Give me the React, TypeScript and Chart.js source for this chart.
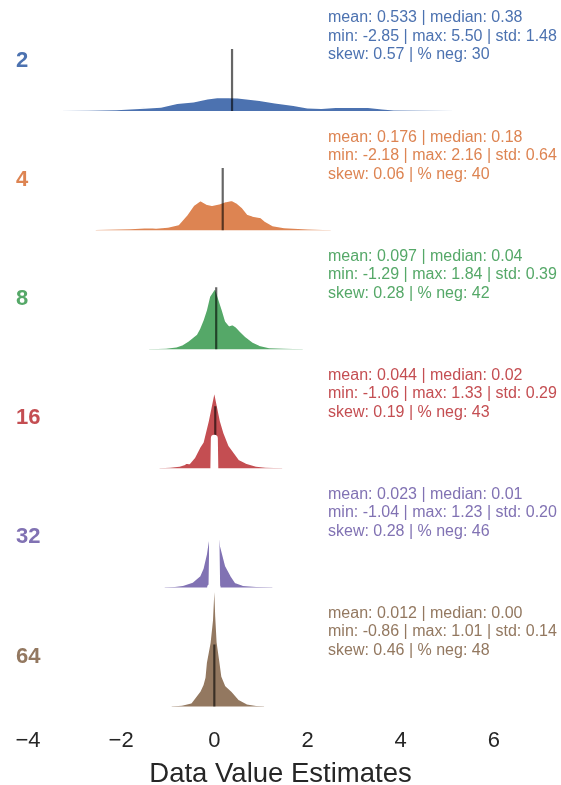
import React, { useEffect, useRef } from "react";
import { Chart, registerables } from "chart.js";

Chart.register(...registerables);

// ---- data ----
const categories = ["2", "4", "8", "16", "32", "64"];
const colors = ["#4C72B0", "#DD8452", "#55A868", "#C44E52", "#8172B3", "#937860"];

const means = [0.533, 0.176, 0.097, 0.044, 0.023, 0.012];
const medians = [0.38, 0.18, 0.04, 0.02, 0.01, 0.0];
const mins = [-2.85, -2.18, -1.29, -1.06, -1.04, -0.86];
const maxs = [5.5, 2.16, 1.84, 1.33, 1.23, 1.01];
const stds = [1.48, 0.64, 0.39, 0.29, 0.2, 0.14];
const skews = [0.57, 0.06, 0.28, 0.19, 0.28, 0.46];
const pctNeg = [30, 40, 42, 43, 46, 48];

const xTickValues = [-4, -2, 0, 2, 4, 6];

// density curves (x positions and heights)
const x2 = [-3.35, -2.7, -2.1, -1.5, -1.15, -0.8, -0.45, -0.15, 0.1, 0.5, 0.97, 1.3, 1.7, 2.0, 2.3, 2.6, 2.9, 3.3, 3.6, 3.85, 4.5, 5.2, 5.9];
const d2 = [1.2, 1.4, 1.8, 3.2, 4.4, 8, 9.5, 12.5, 14, 13.5, 11, 8.5, 6, 3.6, 3, 4, 4.3, 4, 2.5, 1.6, 1.3, 1.2, 1.0];

const x4 = [-2.55, -2.3, -1.8, -1.4, -1.25, -1.0, -0.77, -0.6, -0.45, -0.3, -0.15, -0.05, 0.1, 0.25, 0.38, 0.5, 0.6, 0.72, 0.82, 1.0, 1.1, 1.25, 1.5, 2.0, 2.5];
const d4 = [1.2, 1.4, 1.8, 2.8, 2.5, 3.5, 6, 15, 25, 30, 26, 25, 26.5, 29, 30, 27, 23, 16, 14.5, 13, 9, 5, 3, 1.6, 1.0];

const x8 = [-1.4, -1.04, -0.82, -0.68, -0.57, -0.47, -0.39, -0.32, -0.25, -0.18, -0.11, 0.02, 0.11, 0.18, 0.25, 0.32, 0.39, 0.47, 0.57, 0.68, 0.82, 0.97, 1.18, 1.5, 1.9];
const d8 = [1.0, 1.5, 2.7, 5, 8.3, 12, 15, 21, 29, 39, 52.7, 62, 49, 39, 28, 24, 25, 22.7, 17.7, 12.7, 7.7, 4.3, 2, 1.5, 1.0];

const x16 = [-1.18, -0.95, -0.75, -0.65, -0.6, -0.54, -0.43, -0.32, -0.25, -0.14, -0.07, 0, 0.07, 0.14, 0.21, 0.32, 0.43, 0.54, 0.68, 0.9, 1.1, 1.46];
const d16 = [1.0, 1.5, 2.6, 4, 5.6, 5, 11, 21, 26, 47, 63, 79, 63, 47, 36, 23, 16, 9, 5.6, 2.6, 1.5, 1.0];

const x32 = [-1.07, -0.85, -0.68, -0.47, -0.32, -0.25, -0.18, -0.13, -0.1, -0.08, -0.05, 0, 0.05, 0.06, 0.07, 0.1, 0.14, 0.25, 0.36, 0.46, 0.61, 0.9, 1.25];
const d32 = [1.0, 1.5, 2.3, 5.7, 11.6, 19, 33, 49, 60, 0, 0, 149, 0, 0, 70, 56, 41.6, 21.6, 12, 5, 2.5, 1.5, 1.0];

const x64 = [-0.92, -0.7, -0.5, -0.45, -0.32, -0.25, -0.21, -0.18, -0.1, -0.05, -0.02, 0, 0.02, 0.04, 0.07, 0.13, 0.17, 0.25, 0.39, 0.54, 0.7, 0.9, 1.07];
const d64 = [1.0, 1.8, 4, 7, 15, 22, 29, 44, 64, 86, 116, 145, 116, 90, 64, 44, 30, 21, 15, 7, 3, 1.5, 1.0];

const densityX = [x2, x4, x8, x16, x32, x64];
const densityY = [d2, d4, d8, d16, d32, d64];

// ---- layout / style constants ----
const ROW_GAP = 119;
const MEDIAN_LEN = 62;
const FONT = "'Liberation Sans', Arial, Helvetica, sans-serif";
const INK = "#262626";
// x-range of the narrow central spike whose white outline is drawn thick (row "32")
const SPIKE_ROW = 4;
const SPIKE_LO = -0.085;
const SPIKE_HI = 0.065;

const fmtTick = (v: number) => (v < 0 ? "\u2212" + Math.abs(v) : String(v));

export default function App() {
  const ref = useRef<HTMLCanvasElement | null>(null);

  useEffect(() => {
    document.body.style.margin = "0";
    const canvas = ref.current;
    if (!canvas) return;
    const n = categories.length;
    const bases = categories.map((_, i) => (n - 1 - i) * ROW_GAP);

    const datasets: any[] = [];
    categories.forEach((_, i) => {
      const base = bases[i];
      const pts = densityX[i].map((x, k) => ({ x, y: base + densityY[i][k] }));
      const o = (n - 1 - i) * 3;
      const spike = i === SPIKE_ROW;
      // filled density
      datasets.push({
        type: "line",
        data: pts,
        backgroundColor: colors[i],
        borderWidth: 0,
        borderColor: "rgba(0,0,0,0)",
        pointRadius: 0,
        tension: 0,
        fill: { value: base },
        order: o + 2,
      });
      // median line
      datasets.push({
        type: "line",
        data: [
          { x: medians[i], y: base },
          { x: medians[i], y: base + MEDIAN_LEN },
        ],
        borderColor: "rgba(0,0,0,0.6)",
        borderWidth: 2.2,
        pointRadius: 0,
        fill: false,
        order: spike ? o + 1 : o,
      });
      // white outline
      datasets.push({
        type: "line",
        data: pts,
        borderColor: "#ffffff",
        borderWidth: 2,
        borderJoinStyle: "round",
        borderCapStyle: "round",
        pointRadius: 0,
        tension: 0,
        fill: false,
        order: spike ? o : o + 1,
        segment: spike
          ? {
              borderWidth: (c: any) =>
                c.p0.parsed.x >= SPIKE_LO && c.p1.parsed.x <= SPIKE_HI ? 7 : 2,
            }
          : undefined,
      });
    });

    const textPlugin = {
      id: "rowText",
      afterDatasetsDraw(chart: any) {
        const ctx = chart.ctx;
        const ys = chart.scales.y;
        ctx.save();
        categories.forEach((cat, i) => {
          const py = ys.getPixelForValue(bases[i]);
          ctx.fillStyle = colors[i];
          ctx.textBaseline = "middle";
          ctx.textAlign = "left";
          ctx.font = `bold 22px ${FONT}`;
          ctx.fillText(cat, 16, py - 50);
          ctx.font = `16px ${FONT}`;
          const lines = [
            `mean: ${means[i].toFixed(3)} | median: ${medians[i].toFixed(2)}`,
            `min: ${mins[i].toFixed(2)} | max: ${maxs[i].toFixed(2)} | std: ${stds[i].toFixed(2)}`,
            `skew: ${skews[i].toFixed(2)} | % neg: ${pctNeg[i]}`,
          ];
          lines.forEach((t, k) => ctx.fillText(t, 328, py - 93 + k * 18.5));
        });
        ctx.restore();
      },
    };

    const chart = new Chart(canvas, {
      type: "line",
      data: { datasets },
      options: {
        animation: false,
        responsive: false,
        layout: { padding: 0 },
        plugins: { legend: { display: false }, tooltip: { enabled: false } },
        scales: {
          x: {
            type: "linear",
            min: -4.6,
            max: 7.44,
            afterBuildTicks: (scale: any) => {
              scale.ticks = xTickValues.map((v) => ({ value: v }));
            },
            grid: { display: false, drawTicks: false },
            border: { display: false },
            ticks: {
              padding: 4,
              color: INK,
              font: { family: FONT, size: 22, lineHeight: 1 },
              maxRotation: 0,
              callback: (v: any) => fmtTick(Number(v)),
            },
            title: {
              display: true,
              text: "Data Value Estimates",
              color: INK,
              font: { family: FONT, size: 27.5, lineHeight: 1 },
              padding: { top: 5, bottom: -3 },
            },
          },
          y: {
            type: "linear",
            display: false,
            min: -19,
            max: 706,
          },
        },
      },
      plugins: [textPlugin],
    } as any);

    return () => chart.destroy();
  }, []);

  return (
    <div style={{ position: "absolute", left: 0, top: 0, width: 561, height: 785, background: "#fff" }}>
      <canvas ref={ref} width={561} height={785} style={{ display: "block" }} />
    </div>
  );
}
